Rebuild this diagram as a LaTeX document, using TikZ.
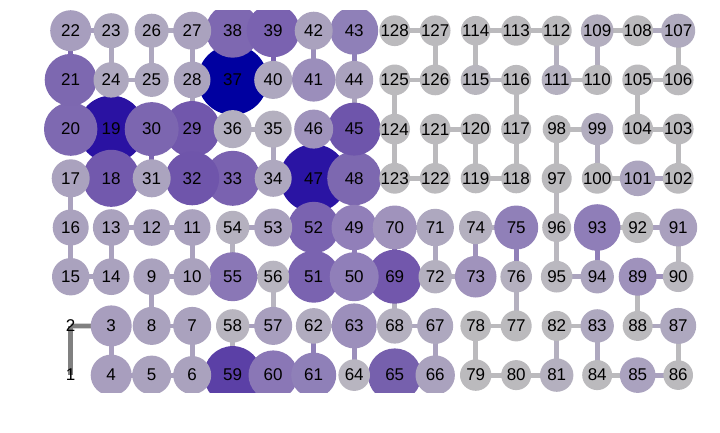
\documentclass[tikz,border=0pt]{standalone}
\usepackage{fontspec}
\setmainfont{Liberation Sans}
\pgfdeclarelayer{bg}
\pgfsetlayers{bg,main}
\begin{document}
\begin{tikzpicture}[x=1pt,y=-1pt,
  dot/.style={circle, inner sep=0pt, outer sep=0pt, draw=none, font=\fontsize{17}{17}\selectfont, text=black},
  lbl/.style={inner sep=0pt, outer sep=0pt, font=\fontsize{17}{17}\selectfont, text=black},
  link/.style={line width=4.8pt}]
\useasboundingbox (0,0) rectangle (720,432);
\expandafter\gdef\csname hx1\endcsname{808080}
\expandafter\gdef\csname hx2\endcsname{808080}
\begin{scope}
\clip (0,10) rectangle (720,392);
\node[lbl] (n1) at (70.7,375.1) {1};
\node[lbl] (n2) at (70.7,325.9) {2};
\foreach \nn/\cc/\rr/\rad/\col in {
37/4/1/35/0000A0,
47/6/3/34/2A14A3,
19/1/2/33.5/2A12A2,
59/4/7/29/5B40A6,
18/1/3/28.5/7259AD,
29/3/2/28/7157AC,
33/4/3/27.5/7A62B0,
38/4/0/27/7E68B1,
30/2/2/27/7C66B0,
32/3/3/27/6F55AB,
48/7/3/27/7D68B0,
69/8/5/27/7257AC,
20/0/2/26.7/7E69B1,
65/8/7/26.7/7660AD,
39/5/0/26.5/7A62B0,
45/7/2/26.5/6E55AB,
21/0/1/26/7D68B0,
51/6/5/26/7A63B0,
52/6/4/25.7/7A63B0,
60/5/7/24.7/8A77B6,
55/4/5/24.5/8A77B6,
50/7/5/24.5/907FB9,
43/7/0/24/8F80B8,
93/13/4/23.3/8F7EB8,
49/7/4/22.7/917FB9,
63/7/6/22.5/9C8FBB,
61/6/7/22.5/8F80B8,
70/8/4/22/A093BC,
75/11/4/22/9080B8,
41/6/1/21.7/9B8EBB,
73/10/5/20.8/A093BC,
22/0/0/20.5/A79EBE,
3/1/6/20.5/A89EBE,
4/1/7/20.5/A89EBE,
66/9/7/19.7/AAA2BE,
46/6/2/19.5/9F93BC,
5/2/7/19.5/AAA2BE,
27/3/0/19/AAA2BE,
40/5/1/19/ADA7BF,
42/6/0/19/AAA2BE,
44/7/1/19/AAA2BE,
36/4/2/19/B3AFC0,
17/0/3/19/AAA2BE,
31/2/3/19/ABA4BF,
53/5/4/19/AAA2BE,
91/15/4/19/A9A0BE,
89/14/5/19/9F92BC,
8/2/6/19/AAA2BE,
7/3/6/19/AAA2BE,
57/5/6/19/A89FBE,
6/3/7/19/AAA2BE,
15/0/5/18.7/AAA2BE,
10/3/5/18.7/AAA2BE,
71/9/4/18.7/AEA8BF,
35/5/2/18.5/B4B0BF,
34/5/3/18.5/AEA8BF,
28/3/1/18.3/ABA4BE,
13/1/4/18.3/AAA2BE,
12/2/4/18.3/AAA2BE,
11/3/4/18.3/AAA2BE,
14/1/5/18.3/AAA2BE,
9/2/5/18.3/AAA2BE,
16/0/4/18/AAA2BE,
67/9/6/18/AEA8BF,
87/15/6/18/AEA8BF,
101/14/3/17.8/ACA5BF,
62/6/6/17.8/B1ACBF,
85/14/7/17.8/AAA2BF,
24/1/1/17.7/AEA8BF,
68/8/6/17.7/B4B0BF,
23/1/0/17.5/AEA8BF,
26/2/0/17/AEA8BF,
25/2/1/17/AEA8BF,
107/15/0/17/B0ABBF,
54/4/4/16.7/B5B1BF,
74/10/4/16.7/B4B0BF,
72/9/5/16.7/B4B0BF,
94/13/5/16.7/ABA4BE,
58/4/6/16.7/B8B5BF,
83/13/6/16.7/AEA8BF,
81/12/7/16.7/B4B0BF,
109/13/0/16.3/B3AEBF,
99/13/2/16/B2ADBF,
56/5/5/16/B8B5C0,
76/11/5/15.8/B4B0BF,
95/12/5/15.8/BAB8BF,
64/7/7/15.8/B8B5C0,
79/10/7/15.7/BBBABD,
92/14/4/15.5/BBBABD,
77/11/6/15.5/BBBABD,
90/15/5/15.3/BAB8BF,
78/10/6/15.3/BBBABD,
113/11/0/15/BBBABD,
112/12/0/15/BBBABD,
125/8/1/15/BBBABD,
126/9/1/15/BBBABD,
115/10/1/15/B8B6BE,
116/11/1/15/BBBABD,
111/12/1/15/B4B0BF,
110/13/1/15/BBBABD,
105/14/1/15/BBBABD,
106/15/1/15/BBBABD,
124/8/2/15/BBBABD,
121/9/2/15/BBBABD,
120/10/2/15/BBBABD,
117/11/2/15/BBBABD,
104/14/2/15/BBBABD,
103/15/2/15/BBBABD,
123/8/3/15/BBBABD,
122/9/3/15/BBBABD,
119/10/3/15/BBBABD,
118/11/3/15/BBBABD,
97/12/3/15/BBBABD,
100/13/3/15/BBBABD,
102/15/3/15/BBBABD,
82/12/6/15/BBBABD,
88/14/6/15/BBBABD,
80/11/7/15/BBBABD,
84/13/7/15/BBBABD,
86/15/7/14.8/BBBABD,
128/8/0/14.7/BBBABD,
127/9/0/14.7/BBBABD,
114/10/0/14.7/BBBABD,
96/12/4/14.5/BAB8BE,
108/14/0/14.3/BBBABD,
98/12/2/14/BBBABD}{
  \expandafter\xdef\csname hx\nn\endcsname{\col}
  \definecolor{nc}{HTML}{\col}
  \node[dot, minimum size={2*\rad}, fill=nc] (n\nn) at ({70.7+40.5*\cc},{30.7+49.2*\rr}) {\nn};
}
\end{scope}
\begin{pgfonlayer}{bg}
\fill[white] (0,0) rectangle (720,432);
\foreach \i [count=\j from 2] in {1,...,127} {
  \edef\tmp{\noexpand\definecolor{ec}{HTML}{\csname hx\i\endcsname}}\tmp
  \draw[link, draw=ec] (n\i.center) -- (n\j.center);
}
\end{pgfonlayer}
\end{tikzpicture}
\end{document}
